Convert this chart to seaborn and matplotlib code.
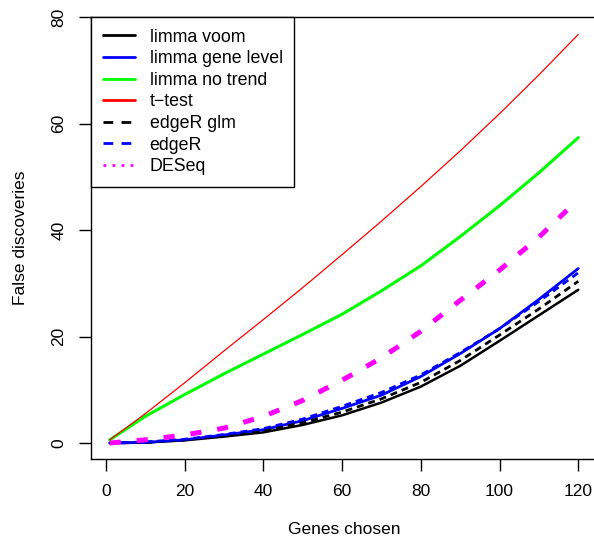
import matplotlib
matplotlib.use("Agg")
import pandas as pd
import matplotlib.pyplot as plt
import seaborn as sns
from matplotlib.lines import Line2D

# values (false discoveries vs number of genes chosen)
genes = [1, 10, 20, 30, 40, 50, 60, 70, 80, 90, 100, 110, 120]
voom = [0.0, 0.1, 0.5, 1.2, 2.0, 3.4, 5.2, 7.6, 10.6, 14.5, 19.2, 24.0, 28.8]
gene_level = [0.0, 0.1, 0.6, 1.5, 2.5, 4.2, 6.5, 9.0, 12.5, 16.8, 21.5, 27.0, 32.8]
no_trend = [0.6, 5.0, 9.1, 13.0, 16.7, 20.4, 24.2, 28.6, 33.3, 38.8, 44.6, 50.8, 57.4]
t_test = [0.6, 5.5, 11.3, 17.3, 23.2, 29.2, 35.4, 41.7, 48.2, 54.9, 61.9, 69.2, 76.8]
edger_glm = [0.0, 0.1, 0.6, 1.4, 2.3, 3.8, 5.8, 8.3, 11.4, 15.5, 20.3, 25.2, 30.4]
edger = [0.0, 0.2, 0.7, 1.6, 2.7, 4.5, 6.9, 9.5, 12.8, 17.0, 21.5, 26.6, 32.0]
deseq = [0.0, 0.6, 1.5, 2.8, 5.0, 8.0, 11.8, 16.0, 21.0, 26.8, 32.5, 38.7, 45.8]

methods = ["limma voom", "limma gene level", "limma no trend", "t\u2212test",
           "edgeR glm", "edgeR", "DESeq"]
series = [voom, gene_level, no_trend, t_test, edger_glm, edger, deseq]

colors = {"limma voom": "black", "limma gene level": "#0000FF", "limma no trend": "#00FF00",
          "t\u2212test": "#FF0000", "edgeR glm": "black", "edgeR": "#0000FF", "DESeq": "#FF00FF"}
dash_map = {"limma voom": "", "limma gene level": "", "limma no trend": "", "t\u2212test": "",
            "edgeR glm": (5, 3.6), "edgeR": (5, 3.6), "DESeq": (8, 11.5)}
width_map = {"limma voom": 1.8, "limma gene level": 2.0, "limma no trend": 2.2, "t\u2212test": 0.9,
             "edgeR glm": 2.0, "edgeR": 2.0, "DESeq": 3.6}

rows = []
for m, vals in zip(methods, series):
    for g, v in zip(genes, vals):
        rows.append({"genes": g, "fd": v, "method": m})
df = pd.DataFrame(rows)

sns.set_style("ticks", {"axes.edgecolor": "black", "text.color": "black",
                        "xtick.color": "black", "ytick.color": "black",
                        "axes.labelcolor": "black"})
plt.rcParams['font.family'] = ['Liberation Sans', 'DejaVu Sans']
plt.rcParams['lines.scale_dashes'] = False

fig = plt.figure(figsize=(5.94, 5.41), dpi=100)
ax = fig.add_axes([91/594, (541-459.4)/541, 506/594, 442.4/541])

sns.lineplot(data=df, x="genes", y="fd", hue="method", style="method", size="method",
             hue_order=methods, style_order=methods, size_order=methods,
             palette=colors, dashes=dash_map, sizes=width_map,
             estimator=None, legend=False, ax=ax)

ax.set_xlim(-3.76, 124.76)
ax.set_ylim(-3.08, 80.08)
ax.set_xticks(range(0, 121, 20))
ax.set_yticks(range(0, 81, 20))
ax.tick_params(direction="out", length=8.6, width=1, pad=9, labelsize=12.5)
for lab in ax.get_yticklabels():
    lab.set_rotation(90)
    lab.set_va("center")
for sp in ax.spines.values():
    sp.set_linewidth(1)
    sp.set_color("black")
# the plot box runs off the right edge of the picture
ax.spines["right"].set_visible(False)

ax.set_xlabel("Genes chosen", fontsize=12.5, labelpad=17)
ax.set_ylabel("False discoveries", fontsize=12.5, labelpad=17)

leg_styles = ["-", "-", "-", "-", (0, (7, 6)), (0, (7, 6)), (0, (2, 4.5))]
handles = [Line2D([0], [0], color=colors[m], lw=2, linestyle=ls)
           for m, ls in zip(methods, leg_styles)]
leg = ax.legend(handles, methods, loc="upper left", borderaxespad=0, frameon=True,
                fancybox=False, edgecolor="black", framealpha=1, fontsize=12.8,
                handlelength=1.8, handletextpad=0.85, labelspacing=0.26, borderpad=0.65)
leg.get_frame().set_linewidth(1)

fig.savefig("out.png", dpi=100)
